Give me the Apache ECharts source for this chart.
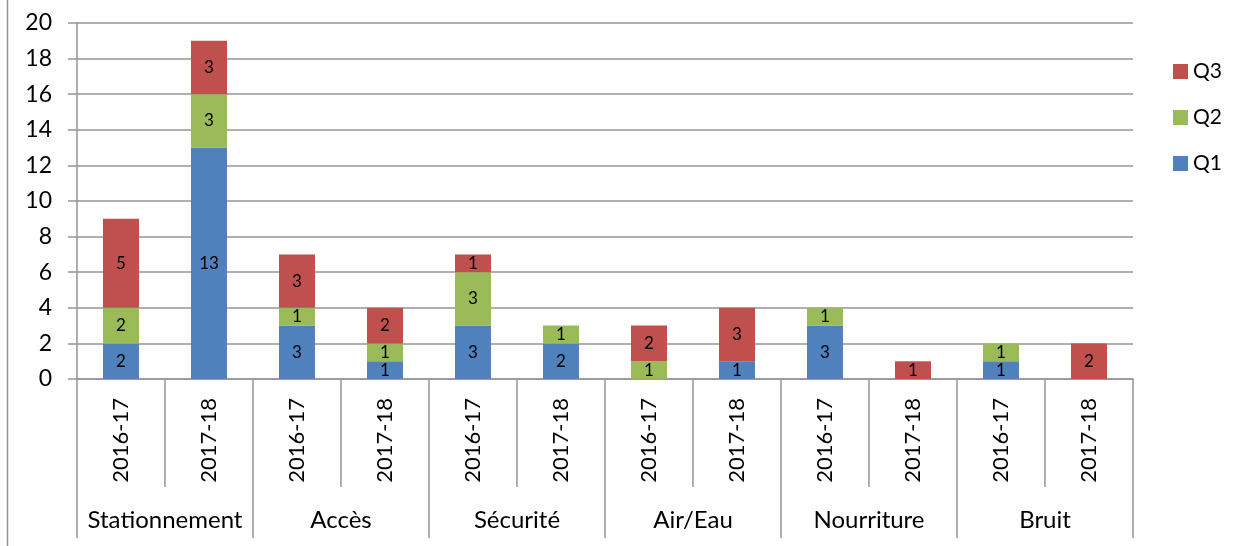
<!DOCTYPE html>
<html>
<head>
<meta charset="utf-8">
<script src="https://cdn.jsdelivr.net/npm/echarts@6/dist/echarts.min.js"></script>
<style>
  html, body { margin: 0; padding: 0; background: #fff; }
  #chart { width: 1233px; height: 546px; }
</style>
</head>
<body>
<div id="chart"></div>
<script>
// Complaints per theme and school year, stacked by quarter
const years = ['2016-17', '2017-18', '2016-17', '2017-18', '2016-17', '2017-18',
               '2016-17', '2017-18', '2016-17', '2017-18', '2016-17', '2017-18'];
const themes = ['Stationnement', 'Accès', 'Sécurité', 'Air/Eau', 'Nourriture', 'Bruit'];
const q1 = [2, 13, 3, 1, 3, 2, null, 1, 3, null, 1, null];
const q2 = [2, 3, 1, 1, 3, 1, 1, null, 1, null, 1, null];
const q3 = [5, 3, 3, 2, 1, null, 2, 3, null, 1, null, 2];

const FONT = 'Lato, "Open Sans", sans-serif';
const GRAY = '#959595';

const chart = echarts.init(document.getElementById('chart'), null, { renderer: 'canvas' });

function stackSeries(name, data, color) {
  return {
    name: name,
    type: 'bar',
    stack: 'total',
    data: data,
    barWidth: 36,
    itemStyle: { color: color },
    label: {
      show: true,
      position: 'inside',
      color: '#000',
      fontFamily: FONT,
      fontSize: 17
    }
  };
}

chart.setOption({
  animation: false,
  textStyle: { fontFamily: FONT },
  graphic: [{
    type: 'line',
    shape: { x1: 7.5, y1: 0, x2: 7.5, y2: 546 },
    style: { stroke: GRAY, lineWidth: 1.5 }
  }],
  legend: {
    data: ['Q3', 'Q2', 'Q1'],
    orient: 'vertical',
    left: 1168,
    top: 56,
    itemWidth: 15,
    itemHeight: 15,
    itemGap: 25,
    icon: 'rect',
    textStyle: { fontFamily: FONT, fontSize: 21, color: '#000' }
  },
  grid: { left: 77, right: 100, top: 23, bottom: 167 },
  xAxis: [{
    type: 'category',
    data: years,
    position: 'bottom',
    axisLine: { show: true, lineStyle: { color: GRAY, width: 1.5 } },
    axisTick: { show: true, interval: 0, length: 108, lineStyle: { color: GRAY, width: 1.5 } },
    axisLabel: {
      interval: 0,
      rotate: 90,
      margin: 19,
      color: '#000',
      fontFamily: FONT,
      fontSize: 22
    }
  }, {
    type: 'category',
    data: themes,
    position: 'bottom',
    axisLine: { show: false },
    axisTick: { show: true, interval: 0, length: 159, lineStyle: { color: GRAY, width: 1.5 } },
    axisLabel: {
      interval: 0,
      margin: 129,
      color: '#000',
      fontFamily: FONT,
      fontSize: 24
    }
  }],
  yAxis: {
    type: 'value',
    min: 0,
    max: 20,
    interval: 2,
    axisLine: { show: true, lineStyle: { color: GRAY, width: 1.5 } },
    axisTick: { show: true, length: 9, lineStyle: { color: GRAY, width: 1.5 } },
    splitLine: { show: true, lineStyle: { color: GRAY, width: 1.5 } },
    axisLabel: { margin: 25, color: '#000', fontFamily: FONT, fontSize: 23 }
  },
  series: [
    stackSeries('Q1', q1, '#4F81BD'),
    stackSeries('Q2', q2, '#9BBB59'),
    stackSeries('Q3', q3, '#C0504D')
  ]
});
</script>
</body>
</html>
